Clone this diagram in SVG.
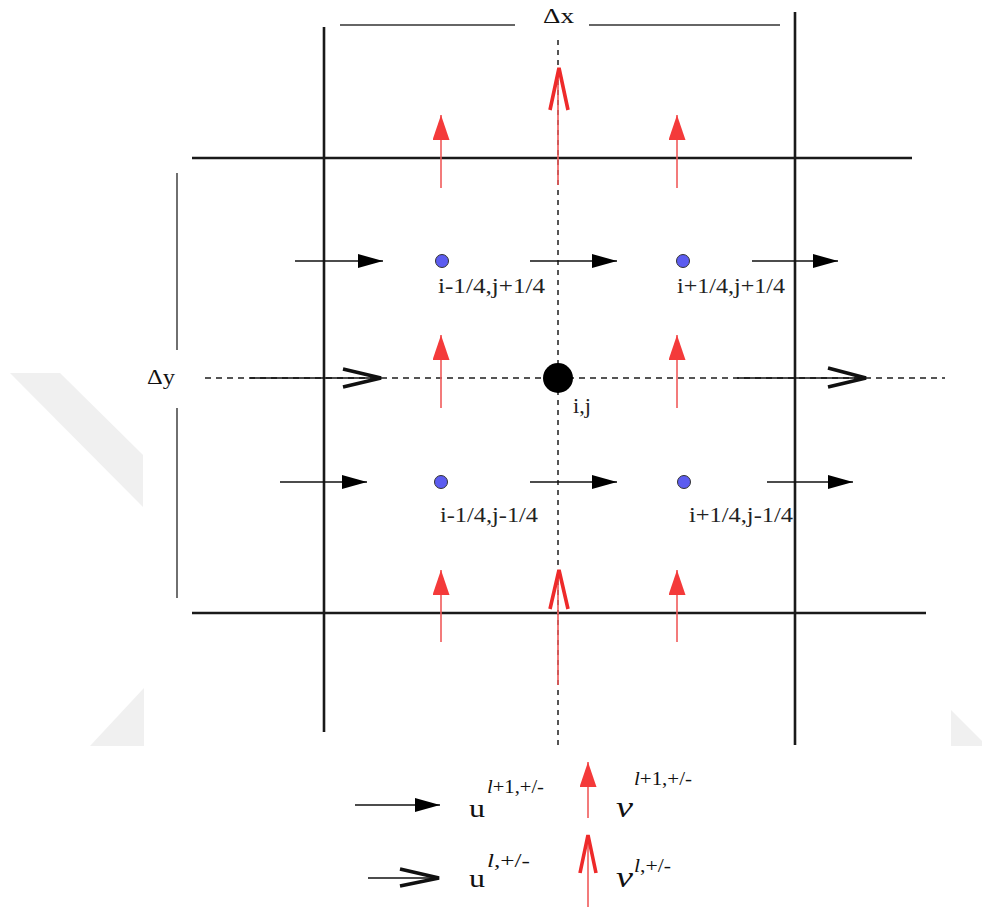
<svg xmlns="http://www.w3.org/2000/svg" width="982" height="912" viewBox="0 0 982 912">
  <style>
    .grid { stroke: #1a1a1a; stroke-width: 2.6; fill: none; }
    .dim { stroke: #333; stroke-width: 1.4; fill: none; }
    .dash { stroke: #555; stroke-width: 2; stroke-dasharray: 6 5; fill: none; }
    .u1 { stroke: #111; stroke-width: 1.5; fill: none; }
    .v1 { stroke: #f05a5a; stroke-width: 1.6; fill: none; }
    .uo { stroke: #111; stroke-width: 3.6; fill: none; stroke-linejoin: miter; }
    .vo { stroke: #ee2a2a; stroke-width: 3.6; fill: none; stroke-linejoin: miter; }
    .wm { fill: #f0f0f0; stroke: none; }
    .lbl { font-family: "Liberation Serif", "Times New Roman", serif; font-size: 21px; fill: #222; }
    .sym { font-family: "Liberation Serif", "Times New Roman", serif; fill: #111; }
    .dot { fill: #5c5cf0; stroke: #333; stroke-width: 1; }
  </style>
  <defs>
    <marker id="ah" viewBox="0 0 25 14" refX="25" refY="7" markerWidth="25" markerHeight="14" markerUnits="userSpaceOnUse" orient="auto">
      <path d="M0,0 L25,7 L0,14 Z" fill="#000"/>
    </marker>
    <marker id="rh" viewBox="0 0 25 17" refX="25" refY="8.5" markerWidth="25" markerHeight="17" markerUnits="userSpaceOnUse" orient="auto">
      <path d="M0,0 L25,8.5 L0,17 Z" fill="#f43a3a"/>
    </marker>
  </defs>
  <rect x="0" y="0" width="982" height="912" fill="#ffffff"/>

  <!-- faint watermark fragments -->
  <g id="watermark">
    <polygon class="wm" points="10,373 60,373 143,455 143,507"/>
    <polygon class="wm" points="90,746 144,746 144,688"/>
    <polygon class="wm" points="951,710 951,746 982,746 982,741"/>
  </g>

  <!-- grid and dimension lines -->
  <g id="grid">
    <line class="grid" x1="324" y1="27" x2="324" y2="732"/>
    <line class="grid" x1="795" y1="12" x2="795" y2="745"/>
    <line class="grid" x1="192" y1="158" x2="912" y2="158"/>
    <line class="grid" x1="192" y1="613" x2="926" y2="613"/>
    <line class="dash" x1="205" y1="378" x2="945" y2="378"/>
    <line class="dash" x1="558" y1="40" x2="558" y2="745" style="stroke-dasharray:5 5"/>
  </g>

  <g id="dim-x">
    <line class="dim" x1="340" y1="25" x2="515" y2="25"/>
    <line class="dim" x1="589" y1="25" x2="780" y2="25"/>
    <text class="sym" x="543" y="23" font-size="20" textLength="31" lengthAdjust="spacingAndGlyphs">Δx</text>
  </g>
  <g id="dim-y">
    <line class="dim" x1="177" y1="173" x2="177" y2="350"/>
    <line class="dim" x1="177" y1="408" x2="177" y2="598"/>
    <text class="sym" x="147" y="384" font-size="20" textLength="28" lengthAdjust="spacingAndGlyphs">Δy</text>
  </g>

  <!-- connectors: velocity arrows -->
  <g id="connectors">
    <!-- u^{l+1} filled arrows -->
    <line class="u1" x1="295" y1="261" x2="383" y2="261" marker-end="url(#ah)"/>
    <line class="u1" x1="530" y1="261" x2="617" y2="261" marker-end="url(#ah)"/>
    <line class="u1" x1="752" y1="261" x2="838" y2="261" marker-end="url(#ah)"/>
    <line class="u1" x1="280" y1="482" x2="367" y2="482" marker-end="url(#ah)"/>
    <line class="u1" x1="530" y1="482" x2="617" y2="482" marker-end="url(#ah)"/>
    <line class="u1" x1="767" y1="482" x2="853" y2="482" marker-end="url(#ah)"/>
    <!-- u^{l} open arrows -->
    <line class="u1" x1="250" y1="378" x2="380" y2="378"/>
    <polyline class="uo" points="343,369 381,378 343,387"/>
    <line class="u1" x1="737" y1="378" x2="865" y2="378"/>
    <polyline class="uo" points="828,368 866,378 828,387"/>
    <!-- v^{l+1} filled red arrows -->
    <line class="v1" x1="441" y1="188" x2="441" y2="115" marker-end="url(#rh)"/>
    <line class="v1" x1="677" y1="188" x2="677" y2="115" marker-end="url(#rh)"/>
    <line class="v1" x1="441" y1="408" x2="441" y2="335" marker-end="url(#rh)"/>
    <line class="v1" x1="677" y1="408" x2="677" y2="335" marker-end="url(#rh)"/>
    <line class="v1" x1="441" y1="642" x2="441" y2="570" marker-end="url(#rh)"/>
    <line class="v1" x1="677" y1="642" x2="677" y2="570" marker-end="url(#rh)"/>
    <!-- v^{l} open red arrows -->
    <line class="v1" x1="558" y1="185" x2="558" y2="70"/>
    <polyline class="vo" points="550,110 559,68 568,110"/>
    <line class="v1" x1="558" y1="685" x2="558" y2="572"/>
    <polyline class="vo" points="550,609 559,570 568,609"/>
  </g>

  <!-- nodes -->
  <g id="node-center">
    <circle cx="558" cy="378" r="15" fill="#000"/>
    <text class="lbl" x="573" y="413" textLength="18" lengthAdjust="spacingAndGlyphs">i,j</text>
  </g>
  <g id="node-nw">
    <circle class="dot" cx="442" cy="261" r="6.5"/>
    <text class="lbl" x="438" y="293" textLength="107" lengthAdjust="spacingAndGlyphs">i-1/4,j+1/4</text>
  </g>
  <g id="node-ne">
    <circle class="dot" cx="683" cy="261" r="6.5"/>
    <text class="lbl" x="677" y="293" textLength="108" lengthAdjust="spacingAndGlyphs">i+1/4,j+1/4</text>
  </g>
  <g id="node-sw">
    <circle class="dot" cx="441" cy="482" r="6.5"/>
    <text class="lbl" x="440" y="522" textLength="98" lengthAdjust="spacingAndGlyphs">i-1/4,j-1/4</text>
  </g>
  <g id="node-se">
    <circle class="dot" cx="684" cy="482" r="6.5"/>
    <text class="lbl" x="689" y="522" textLength="104" lengthAdjust="spacingAndGlyphs">i+1/4,j-1/4</text>
  </g>

  <!-- legend -->
  <g id="legend">
    <line class="u1" x1="355" y1="805" x2="440" y2="805" marker-end="url(#ah)"/>
    <text class="sym" x="469" y="817" font-size="25" textLength="16" lengthAdjust="spacingAndGlyphs">u</text>
    <text class="sym" x="487" y="793" font-size="19" textLength="57" lengthAdjust="spacingAndGlyphs"><tspan font-style="italic">l</tspan>+1,+/-</text>

    <line class="v1" x1="588" y1="818" x2="588" y2="762" marker-end="url(#rh)"/>
    <text class="sym" x="616" y="817" font-size="30" font-style="italic" textLength="17" lengthAdjust="spacingAndGlyphs">v</text>
    <text class="sym" x="634" y="785" font-size="19" textLength="58" lengthAdjust="spacingAndGlyphs"><tspan font-style="italic">l</tspan>+1,+/-</text>

    <line class="u1" x1="368" y1="878" x2="438" y2="878"/>
    <polyline class="uo" points="400,869 439,878 400,886"/>
    <text class="sym" x="469" y="887" font-size="25" textLength="16" lengthAdjust="spacingAndGlyphs">u</text>
    <text class="sym" x="487" y="867" font-size="19" textLength="43" lengthAdjust="spacingAndGlyphs"><tspan font-style="italic">l</tspan>,+/-</text>

    <line class="v1" x1="588" y1="907" x2="588" y2="838"/>
    <polyline class="vo" points="580,873 588,835 596,873"/>
    <text class="sym" x="616" y="887" font-size="30" font-style="italic" textLength="17" lengthAdjust="spacingAndGlyphs">v</text>
    <text class="sym" x="634" y="872" font-size="19" textLength="37" lengthAdjust="spacingAndGlyphs"><tspan font-style="italic">l</tspan>,+/-</text>
  </g>
</svg>
